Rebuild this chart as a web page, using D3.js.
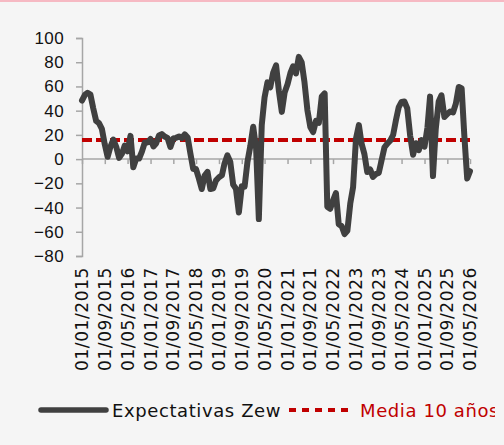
<!DOCTYPE html>
<html>
<head>
<meta charset="utf-8">
<script src="https://cdnjs.cloudflare.com/ajax/libs/d3/7.8.5/d3.min.js"></script>
<style>
  html, body { margin: 0; padding: 0; background: #f5f5f5; }
  svg { display: block; font-family: "DejaVu Sans", sans-serif; }
</style>
</head>
<body>
<script>
// ZEW expectativas, mensual desde 01/01/2015
var startMonth = "2015-01";
var zewValues = [
    48.4, 53.0, 54.8, 53.3, 41.9, 31.5, 29.7, 25.0, 12.1, 1.9, 10.4, 16.1,
    10.2, 1.0, 4.3, 11.2, 6.4, 19.2, -6.8, 0.5, 0.5, 6.2, 13.8, 13.8,
    16.6, 10.4, 12.8, 19.5, 20.6, 18.6, 17.5, 10.0, 17.0, 17.6, 18.7, 17.4,
    20.4, 17.8, 5.1, -8.2, -8.2, -16.1, -24.7, -13.7, -10.6, -24.7, -24.1, -17.5,
    -15.0, -13.4, -3.6, 3.1, -2.1, -21.1, -24.5, -44.1, -22.5, -22.8, -2.1, 10.7,
    26.7, 8.7, -49.5, 28.2, 51.0, 63.4, 59.3, 71.5, 77.4, 56.1, 39.0, 55.0,
    61.8, 71.2, 76.6, 70.7, 84.4, 79.8, 63.3, 40.4, 26.5, 22.3, 31.7, 29.9,
    51.7, 54.3, -39.3, -41.0, -34.3, -28.0, -53.8, -55.3, -61.9, -59.2, -36.7, -23.3,
    16.9, 28.1, 13.0, 4.1, -10.7, -8.5, -14.7, -12.3, -11.4, -1.1, 9.8, 12.8,
    15.2, 19.9, 31.7, 42.9, 47.1, 47.5, 41.8, 19.2, 3.6, 13.1, 7.4, 15.7,
    10.3, 26.0, 51.6, -14.0, 25.2, 47.5, 52.7, 34.7, 37.3, 39.3, 38.5, 45.8,
    59.6, 58.3, 20.0, -16.0, -10.0
];
var mediaValue = 15.8;
var yTicks = [100, 80, 60, 40, 20, 0, -20, -40, -60, -80];
var tickEvery = 8; // un rotulo cada 8 meses
var seriesNames = ["Expectativas Zew", "Media 10 años"];

var width = 504, height = 445;
var margin = {top: 38, left: 82, right: 34, bottom: 189};

var parseMonth = d3.timeParse("%Y-%m");
var formatDate = d3.timeFormat("%d/%m/%Y");
var start = parseMonth(startMonth);

var data = zewValues.map(function (v, i) {
    return {date: d3.timeMonth.offset(start, i), value: v};
});

var svg = d3.select("body")
    .append("svg")
    .attr("width", width)
    .attr("height", height);

// franja rosa arriba
svg.append("rect")
    .attr("x", 0).attr("y", 0)
    .attr("width", width).attr("height", 2)
    .attr("fill", "#f6b9c3");

var xScale = d3.scaleTime()
    .domain(d3.extent(data, d => d.date))
    .range([margin.left, width - margin.right]);

var yScale = d3.scaleLinear()
    .domain([-80, 100])
    .range([height - margin.bottom, margin.top]);

var tickDates = data.filter((d, i) => i % tickEvery === 0).map(d => d.date);

// eje y
var yAxis = svg.append("g")
    .attr("transform", "translate(" + margin.left + ",0)")
    .call(d3.axisLeft(yScale).tickValues(yTicks).tickSize(6).tickPadding(12));
yAxis.select(".domain").attr("stroke", "#a6a6a6").attr("stroke-width", 1.5);
yAxis.selectAll(".tick line").attr("stroke", "#a6a6a6").attr("stroke-width", 1.5);
yAxis.selectAll(".tick text")
    .attr("fill", "#111")
    .style("font-size", "17px")
    .style("letter-spacing", "0.4px");

// eje x (marcas en el cero)
var xAxis = svg.append("g")
    .attr("transform", "translate(0," + yScale(0) + ")")
    .call(d3.axisBottom(xScale).tickValues(tickDates).tickSize(5).tickFormat(""));
xAxis.select(".domain").attr("stroke", "#a6a6a6").attr("stroke-width", 1.5)
    .attr("d", "M" + margin.left + ",0H" + (width - margin.right));
xAxis.selectAll(".tick line").attr("stroke", "#a6a6a6").attr("stroke-width", 1.5);

// rotulos x en la parte baja
svg.append("g")
    .selectAll("text")
    .data(tickDates)
    .enter().append("text")
    .attr("transform", d => "translate(" + (xScale(d) + 6) + "," + (yScale(-80) + 11) + ") rotate(-90)")
    .attr("text-anchor", "end")
    .attr("fill", "#111")
    .style("font-size", "17px")
    .style("letter-spacing", "0.6px")
    .text(d => formatDate(d));

// media 10 años
svg.append("line")
    .attr("x1", xScale.range()[0])
    .attr("x2", xScale.range()[1])
    .attr("y1", yScale(mediaValue))
    .attr("y2", yScale(mediaValue))
    .attr("stroke", "#c00000")
    .attr("stroke-width", 4)
    .attr("stroke-dasharray", "10,4");

var line = d3.line()
    .x(d => xScale(d.date))
    .y(d => yScale(d.value));

svg.append("path")
    .datum(data)
    .attr("d", line)
    .attr("fill", "none")
    .attr("stroke", "#404040")
    .attr("stroke-width", 6)
    .attr("stroke-linejoin", "round")
    .attr("stroke-linecap", "round");

// leyenda
svg.append("clipPath").attr("id", "legclip")
    .append("rect").attr("x", 0).attr("y", 380).attr("width", 495).attr("height", 60);

var legend = svg.append("g").attr("clip-path", "url(#legclip)");
var legY = 410;

legend.append("line")
    .attr("x1", 41).attr("x2", 106)
    .attr("y1", legY).attr("y2", legY)
    .attr("stroke", "#404040")
    .attr("stroke-width", 5.5)
    .attr("stroke-linecap", "round");

legend.append("text")
    .attr("x", 112).attr("y", legY + 6.5)
    .attr("fill", "#111")
    .style("font-size", "18px")
    .style("letter-spacing", "0.6px")
    .text(seriesNames[0]);

legend.append("line")
    .attr("x1", 289).attr("x2", 354)
    .attr("y1", legY).attr("y2", legY)
    .attr("stroke", "#c00000")
    .attr("stroke-width", 4)
    .attr("stroke-dasharray", "7,6");

legend.append("text")
    .attr("x", 360).attr("y", legY + 6.5)
    .attr("fill", "#c00000")
    .style("font-size", "18px")
    .style("letter-spacing", "0.6px")
    .text(seriesNames[1]);
</script>
</body>
</html>
